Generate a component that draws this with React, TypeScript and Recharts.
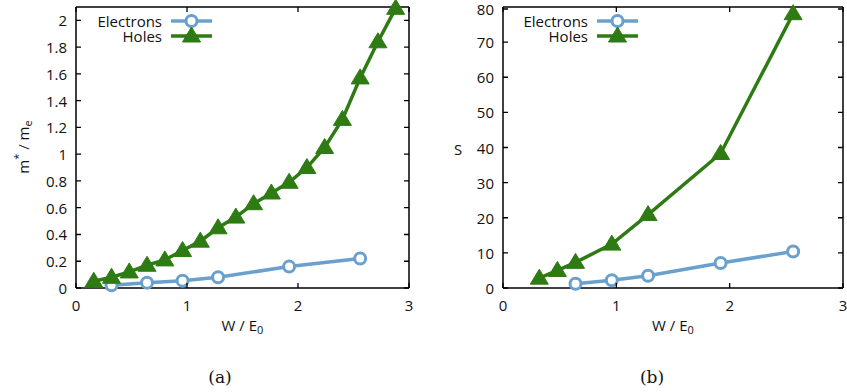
import { Line, LineChart, XAxis, YAxis, Legend, ReferenceLine } from 'recharts';

// W / E0 positions and values
const holesMassW = [0.16, 0.32, 0.48, 0.64, 0.8, 0.96, 1.12, 1.28, 1.44, 1.6, 1.76, 1.92, 2.08, 2.24, 2.4, 2.56, 2.72, 2.88];
const holesMass = [0.05, 0.08, 0.12, 0.17, 0.21, 0.28, 0.35, 0.45, 0.53, 0.63, 0.71, 0.79, 0.9, 1.05, 1.26, 1.57, 1.84, 2.09];
const electronsMassW = [0.32, 0.64, 0.96, 1.28, 1.92, 2.56];
const electronsMass = [0.02, 0.04, 0.055, 0.08, 0.16, 0.22];

const holesSW = [0.32, 0.48, 0.64, 0.96, 1.28, 1.92, 2.56];
const holesS = [2.8, 5.0, 7.3, 12.5, 20.9, 38.3, 78.1];
const electronsSW = [0.64, 0.96, 1.28, 1.92, 2.56];
const electronsS = [1.2, 2.2, 3.5, 7.1, 10.4];

const xTicks = [0, 1, 2, 3];
const massTicks = [0, 0.2, 0.4, 0.6, 0.8, 1, 1.2, 1.4, 1.6, 1.8, 2];
const sTicks = [0, 10, 20, 30, 40, 50, 60, 70, 80];

const seriesNames = ['Electrons', 'Holes'];

const BLUE = '#6aa0cd';
const GREEN = '#2e7b14';
const FONT = '"Open Sans", sans-serif';
const FS = 15;
const TICK_LEN = 5;
const MARGIN = 9;
const CHART_H = 392;
const TOP = 7;
const BOTTOM_PAD = 72;
const X_AXIS_H = 32;
const PLOT_H = CHART_H - TOP - BOTTOM_PAD - X_AXIS_H;
const FRAME_W = 1.5;

const zip = (w: number[], v: number[]) => w.map((x, i) => ({ w: x, v: v[i] }));

const fmt = (v: number) => (Number.isInteger(v) ? String(v) : v.toFixed(1));

// gnuplot-style ticks: pointing inward, mirrored on the opposite side of the box
const yTick = (plotW: number) => (props: any) => {
  const { x, y, payload } = props;
  const edge = x + MARGIN;
  return (
    <g>
      <path d={`M${edge},${y}h${TICK_LEN}M${edge + plotW},${y}h${-TICK_LEN}`} stroke="#000" strokeWidth={1.3} fill="none" />
      <text x={x} y={y} textAnchor="end" dominantBaseline="central" fontFamily={FONT} fontSize={FS} fill="#111">
        {fmt(payload.value)}
      </text>
    </g>
  );
};

const xTick = (props: any) => {
  const { x, y, payload } = props;
  const edge = y - MARGIN;
  return (
    <g>
      <path d={`M${x},${edge}v${-TICK_LEN}M${x},${edge - PLOT_H}v${TICK_LEN}`} stroke="#000" strokeWidth={1.3} fill="none" />
      <text x={x} y={y + 8} textAnchor="middle" dominantBaseline="central" fontFamily={FONT} fontSize={FS} fill="#111">
        {fmt(payload.value)}
      </text>
    </g>
  );
};

const CircleDot = (props: any) => {
  const { cx, cy } = props;
  if (cx == null || cy == null) return null;
  return <circle cx={cx} cy={cy} r={5.5} fill="#fff" stroke={BLUE} strokeWidth={3} />;
};

const TriangleDot = (props: any) => {
  const { cx, cy } = props;
  if (cx == null || cy == null) return null;
  return (
    <polygon
      points={`${cx},${cy - 9} ${cx - 9},${cy + 6} ${cx + 9},${cy + 6}`}
      fill={GREEN}
      stroke={GREEN}
      strokeWidth={1}
      strokeLinejoin="round"
    />
  );
};

const legendContent = (textRight: number) => () => (
  <svg width={260} height={46} style={{ display: 'block' }}>
    {seriesNames.map((name, i) => {
      const y = 21 + i * 15;
      const x1 = textRight + 9;
      const x2 = textRight + 50;
      const cx = (x1 + x2) / 2;
      return (
        <g key={name}>
          <text x={textRight} y={y} textAnchor="end" dominantBaseline="central" fontFamily={FONT} fontSize={FS} fill="#111">
            {name}
          </text>
          <line x1={x1} x2={x2} y1={y} y2={y} stroke={i === 0 ? BLUE : GREEN} strokeWidth={3.5} />
          {i === 0 ? <CircleDot cx={cx} cy={y} /> : <TriangleDot cx={cx} cy={y} />}
        </g>
      );
    })}
  </svg>
);

const xTitle = (cx: number) => () => (
  <text x={cx} y={325} textAnchor="middle" dominantBaseline="central" fontFamily={FONT} fontSize={FS} fill="#111">
    W / E<tspan dy={4} fontSize={11}>0</tspan>
  </text>
);

const massTitle = () => {
  const x = 23;
  const y = 147;
  return (
    <text x={x} y={y} transform={`rotate(-90, ${x}, ${y})`} textAnchor="middle" dominantBaseline="central" fontFamily={FONT} fontSize={FS} fill="#111">
      m<tspan dy={-6} fontSize={11}>*</tspan>
      <tspan dy={6}> / m</tspan>
      <tspan dy={4} fontSize={11}>e</tspan>
    </text>
  );
};

const sTitle = () => (
  <text x={38} y={149} textAnchor="middle" dominantBaseline="central" fontFamily={FONT} fontSize={FS} fill="#111">
    S
  </text>
);

interface PanelProps {
  electrons: { w: number; v: number }[];
  holes: { w: number; v: number }[];
  yTicks: number[];
  yMax: number;
  width: number;
  yAxisWidth: number;
  rightMargin: number;
  legendRight: number;
  yTitle: (p: any) => any;
}

function Panel({ electrons, holes, yTicks, yMax, width, yAxisWidth, rightMargin, legendRight, yTitle }: PanelProps) {
  const plotW = width - yAxisWidth - rightMargin;
  const plotCenter = yAxisWidth + plotW / 2;
  const frame = { stroke: '#000', strokeWidth: FRAME_W };
  return (
    <LineChart width={width} height={CHART_H} margin={{ top: TOP, right: rightMargin, bottom: BOTTOM_PAD, left: 0 }}>
      <XAxis
        dataKey="w"
        type="number"
        domain={[0, 3]}
        ticks={xTicks}
        height={X_AXIS_H}
        tickSize={0}
        tickMargin={MARGIN}
        axisLine={frame}
        tick={xTick}
        label={xTitle(plotCenter)}
      />
      <YAxis
        dataKey="v"
        type="number"
        domain={[0, yMax]}
        ticks={yTicks}
        width={yAxisWidth}
        tickSize={0}
        tickMargin={MARGIN}
        axisLine={frame}
        tick={yTick(plotW)}
        label={yTitle}
      />
      {/* top and right sides of the plot box */}
      <ReferenceLine x={3} stroke="#000" strokeWidth={FRAME_W} ifOverflow="visible" />
      <ReferenceLine y={yMax} stroke="#000" strokeWidth={FRAME_W} ifOverflow="visible" />
      <Legend
        layout="vertical"
        align="center"
        verticalAlign="middle"
        wrapperStyle={{ left: 0, top: 0, width: 260 }}
        content={legendContent(legendRight)}
      />
      <Line
        data={electrons}
        dataKey="v"
        name={seriesNames[0]}
        type="linear"
        stroke={BLUE}
        strokeWidth={3.5}
        dot={<CircleDot />}
        activeDot={false}
        isAnimationActive={false}
      />
      <Line
        data={holes}
        dataKey="v"
        name={seriesNames[1]}
        type="linear"
        stroke={GREEN}
        strokeWidth={3.5}
        dot={<TriangleDot />}
        activeDot={false}
        isAnimationActive={false}
      />
    </LineChart>
  );
}

export default function App() {
  return (
    <div style={{ position: 'absolute', left: 0, top: 0, width: 847, height: 392, background: '#fff', overflow: 'hidden' }}>
      <div style={{ position: 'absolute', left: 0, top: 0 }}>
        <Panel
          electrons={zip(electronsMassW, electronsMass)}
          holes={zip(holesMassW, holesMass)}
          yTicks={massTicks}
          yMax={2.1}
          width={420}
          yAxisWidth={76}
          rightMargin={11}
          legendRight={162}
          yTitle={massTitle}
        />
      </div>
      <div style={{ position: 'absolute', left: 420, top: 0 }}>
        <Panel
          electrons={zip(electronsSW, electronsS)}
          holes={zip(holesSW, holesS)}
          yTicks={sTicks}
          yMax={80}
          width={427}
          yAxisWidth={83}
          rightMargin={4}
          legendRight={168}
          yTitle={sTitle}
        />
      </div>
      <svg width={847} height={392} style={{ position: 'absolute', left: 0, top: 0, pointerEvents: 'none' }}>
        <text x={220} y={377} textAnchor="middle" dominantBaseline="central" fontFamily='"DejaVu Serif", serif' fontSize={17} fill="#111">
          (a)
        </text>
        <text x={652} y={377} textAnchor="middle" dominantBaseline="central" fontFamily='"DejaVu Serif", serif' fontSize={17} fill="#111">
          (b)
        </text>
      </svg>
    </div>
  );
}
